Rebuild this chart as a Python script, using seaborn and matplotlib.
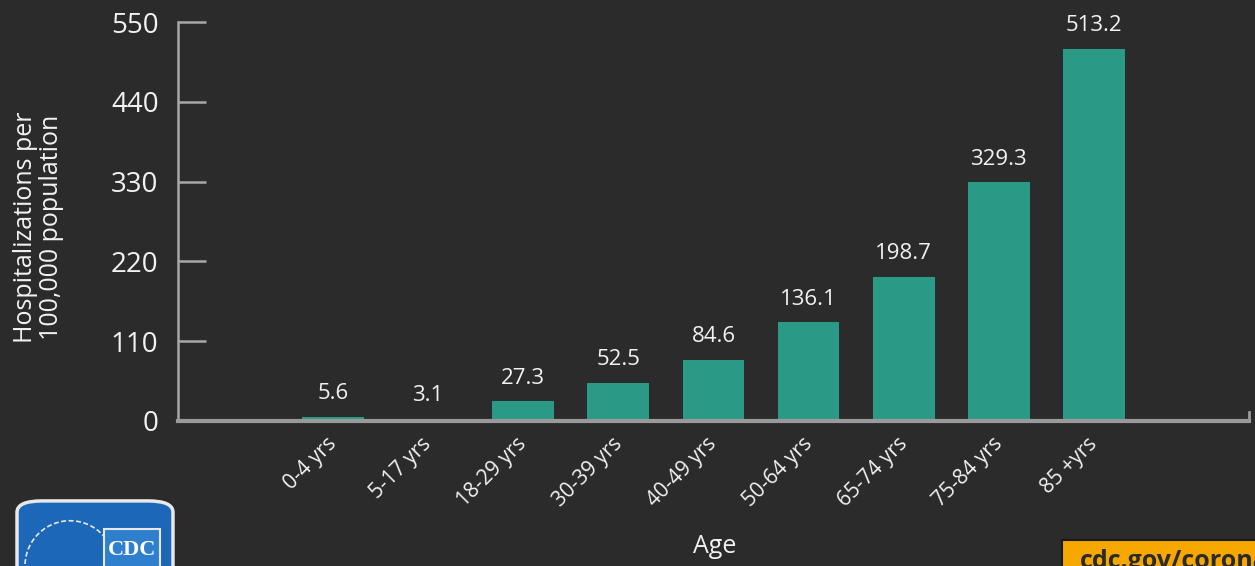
import matplotlib
matplotlib.use("Agg")
import matplotlib.pyplot as plt
import matplotlib.transforms as mtransforms
from matplotlib.patches import FancyBboxPatch, Rectangle, Arc
import seaborn as sns

ages = ["0-4 yrs", "5-17 yrs", "18-29 yrs", "30-39 yrs", "40-49 yrs",
        "50-64 yrs", "65-74 yrs", "75-84 yrs", "85 +yrs"]
rates = [5.6, 3.1, 27.3, 52.5, 84.6, 136.1, 198.7, 329.3, 513.2]
yticks = [0, 110, 220, 330, 440, 550]

BG = "#2b2b2b"
BAR = "#2a9a86"
FG = "#f2f2f2"
AXIS = "#a8a8a8"

sns.set_style("dark")
plt.rcParams["font.family"] = ["Open Sans", "DejaVu Sans"]

fig = plt.figure(figsize=(12.55, 5.66), dpi=100, facecolor=BG)
ax = fig.add_axes([0.1418, 0.2562, 0.8534, 0.7049])
ax.set_facecolor(BG)

sns.barplot(x=ages, y=rates, color=BAR, saturation=1, width=0.65,
            edgecolor=BAR, linewidth=0, ax=ax)
ax.bar_label(ax.containers[0], labels=[f"{v}" for v in rates], padding=9,
             color=FG, fontsize=16)

ax.set_xlim(-1.63, 9.63)
ax.set_ylim(0, 550)
ax.set_yticks(yticks)
ax.tick_params(axis="y", left=True, direction="in", length=20, width=1.8,
               color=AXIS, labelsize=20, labelcolor=FG, pad=14)
ax.tick_params(axis="x", bottom=False, length=0, labelsize=15,
               labelcolor=FG, pad=9)
shift = mtransforms.ScaledTranslation(-7 / 100, 0, fig.dpi_scale_trans)
for lab in ax.get_xticklabels():
    lab.set_rotation(45)
    lab.set_ha("right")
    lab.set_rotation_mode("anchor")
    lab.set_transform(lab.get_transform() + shift)
ax.grid(False)

ax.spines["top"].set_visible(False)
ax.spines["left"].set_color(AXIS)
ax.spines["left"].set_linewidth(1.8)
ax.spines["bottom"].set_color("#9a9a9a")
ax.spines["bottom"].set_linewidth(3)
ax.spines["right"].set_color("#9a9a9a")
ax.spines["right"].set_linewidth(2)
ax.spines["right"].set_bounds(0, 12)

ax.set_ylabel("Hospitalizations per\n100,000 population", color=FG,
              fontsize=18, linespacing=1.1)
ax.set_xlabel("")
ax.yaxis.set_label_coords(-0.106, 0.485)
fig.text(0.5697, 0.034, "Age", color=FG, fontsize=18, ha="center", va="center")

# CDC logo (bottom left)
logo = FancyBboxPatch((17 / 1255, -0.05), 156 / 1255, 0.165,
                      boxstyle="round,pad=0,rounding_size=0.02",
                      transform=fig.transFigure, facecolor="#1d67b8",
                      edgecolor="#e8e8e8", linewidth=2.5)
fig.add_artist(logo)
emblem = Arc((70 / 1255, 0.0), 90 / 1255, 0.16, theta1=20, theta2=200,
             transform=fig.transFigure, color="#e8e8e8", linewidth=1.2,
             linestyle=(0, (3, 1.5)))
fig.add_artist(emblem)
inner = Rectangle((104 / 1255, -0.02), 56 / 1255, 0.085,
                  transform=fig.transFigure, facecolor="#2f7fcf",
                  edgecolor="#e8e8e8", linewidth=1.5)
fig.add_artist(inner)
fig.text(132 / 1255, 0.028, "CDC", color="white", fontsize=16,
         fontweight="bold", ha="center", va="center",
         family=["Liberation Serif", "DejaVu Serif"])

# cdc.gov banner (bottom right)
banner = Rectangle((1062 / 1255, -0.02), 0.2, 0.066,
                   transform=fig.transFigure, facecolor="#f7a800",
                   edgecolor="#1a1a1a", linewidth=1.5)
fig.add_artist(banner)
fig.text(1080 / 1255, -0.014, "cdc.gov/coronavirus", color="#2a2a2a",
         fontsize=18, fontweight="bold", ha="left", va="bottom")

fig.savefig("out.png", dpi=100, facecolor=BG)
